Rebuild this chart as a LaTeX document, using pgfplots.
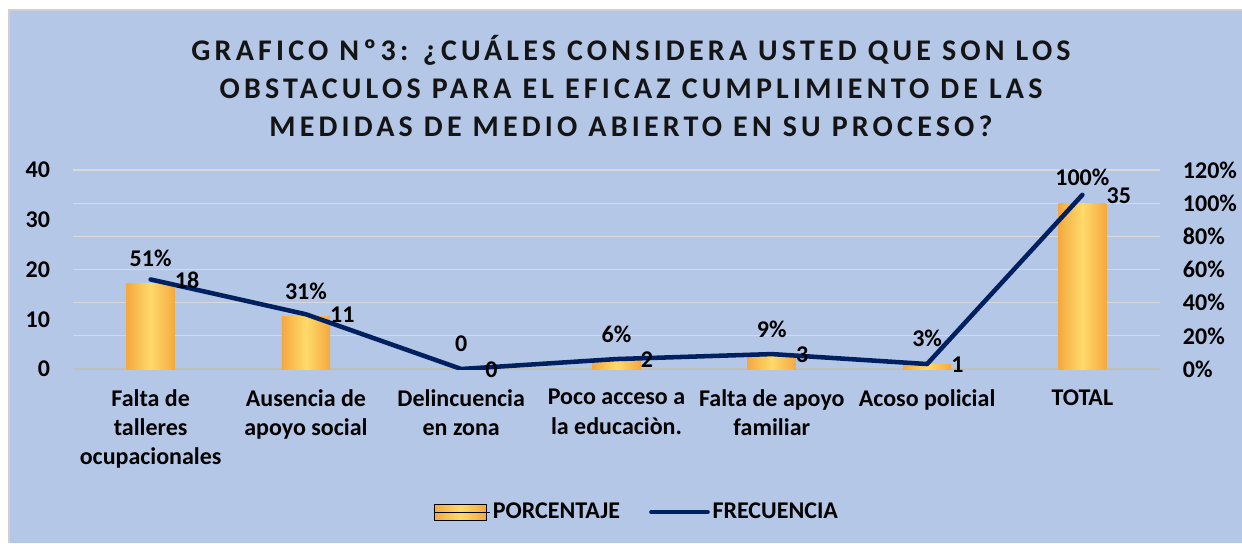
\documentclass[border=0pt]{standalone}
\usepackage{fontspec}
\setmainfont{Carlito}
\newfontfamily\titlefam{Carlito}[LetterSpace=14]
\usepackage{pgfplots}
\pgfplotsset{compat=1.18}
\definecolor{bg}{HTML}{B4C7E7}
\definecolor{navy}{HTML}{002060}
\definecolor{barEdge}{HTML}{F4A940}
\definecolor{barMid}{HTML}{FFDA6A}
\definecolor{gridc}{HTML}{D9D9D9}
\definecolor{basec}{HTML}{BFBFBF}
\definecolor{framec}{HTML}{D0D0D0}
\pgfdeclarehorizontalshading{barshade}{100bp}{color(0bp)=(barEdge); color(25bp)=(barEdge); color(50bp)=(barMid); color(75bp)=(barEdge); color(100bp)=(barEdge)}
\newcommand\lbl{\bfseries\fontsize{18}{22}\selectfont}
\pgfplotsset{mybar/.style={ybar, bar width=0.31, draw=none, shade, shading=barshade,
  nodes near coords, point meta=explicit symbolic,
  every node near coord/.append style={anchor=base, yshift=13pt, font=\lbl, text=black, inner sep=0pt}}}
\begin{document}
\begin{tikzpicture}
\path[use as bounding box] (0pt,0pt) rectangle (931.5pt,-407.25pt);
\fill[white] (0pt,0pt) rectangle (931.5pt,-407.25pt);
\fill[bg] (6.75pt,-7.5pt) rectangle (931.5pt,-407.25pt);
\draw[framec, line width=0.8pt] (6.75pt,-407.25pt) -- (6.75pt,-7.5pt) -- (931.5pt,-7.5pt);
\node[align=center, font=\titlefam\bfseries\fontsize{22.5}{28.5}\selectfont, text=black!92] at (473.25pt,-64.5pt)
 {GRAFICO Nº3: ¿CUÁLES CONSIDERA USTED QUE SON LOS\\OBSTACULOS PARA EL EFICAZ CUMPLIMIENTO DE LAS\\MEDIDAS DE MEDIO ABIERTO EN SU PROCESO?};
\begin{axis}[
  at={(54.75pt,-276.75pt)}, anchor=south west,
  width=815.25pt, height=149.25pt, scale only axis,
  xmin=-0.5, xmax=6.5, ymin=0, ymax=120,
  axis x line*=bottom, axis y line*=right,
  x axis line style={draw=basec, line width=1.5pt, -},
  y axis line style={draw=none},
  ymajorgrids, major grid style={gridc, line width=0.9pt},
  major tick length=0pt,
  ytick={0,20,...,120},
  yticklabel={\pgfmathprintnumber{\tick}\%},
  /pgf/number format/assume math mode=true,
  y tick label style={font=\lbl, anchor=west, inner sep=0pt, xshift=17pt},
  xtick={0,...,6},
  xticklabels={{Falta de\\talleres\\ocupacionales},{Ausencia de\\apoyo social},{Delincuencia\\en zona},{Poco acceso a\\la educaciòn.},{Falta de apoyo\\familiar},{Acoso policial},{TOTAL}},
  x tick label style={font=\lbl, align=center, anchor=north, inner sep=0pt, yshift=-15pt},
]
\addplot[mybar] coordinates {(0,51.43)[51\%]};
\addplot[mybar] coordinates {(1,31.43)[31\%]};
\addplot[mybar] coordinates {(2,0)[0]};
\addplot[mybar] coordinates {(3,5.71)[6\%]};
\addplot[mybar] coordinates {(4,8.57)[9\%]};
\addplot[mybar] coordinates {(5,2.86)[3\%]};
\addplot[mybar] coordinates {(6,100)[100\%]};
\end{axis}
\begin{axis}[
  at={(54.75pt,-276.75pt)}, anchor=south west,
  width=815.25pt, height=149.25pt, scale only axis,
  xmin=-0.5, xmax=6.5, ymin=0, ymax=40,
  hide x axis, axis y line*=left,
  y axis line style={draw=none},
  major tick length=0pt,
  ytick={0,10,...,40},
  /pgf/number format/assume math mode=true,
  y tick label style={font=\lbl, anchor=east, inner sep=0pt, xshift=-17pt},
  legend style={at={(0.519,-0.719)}, anchor=center, draw=none, fill=none, font=\lbl,
    legend columns=2, /tikz/every even column/.append style={column sep=20pt}},
]
\addlegendimage{legend image code/.code={\shade[shading=barshade] (0pt,-6pt) rectangle (39pt,6pt); \path (0pt,0pt) -- (42pt,0pt);}}
\addlegendentry{PORCENTAJE}
\addplot[navy, line width=3.4pt, line join=round, line cap=round,
  legend image code/.code={\draw[navy, line width=3.4pt, line cap=round] (0pt,0pt) -- (39pt,0pt); \path (0pt,0pt) -- (42pt,0pt);},
  nodes near coords, point meta=explicit symbolic,
  every node near coord/.append style={anchor=base west, xshift=16.5pt, yshift=-6.5pt, font=\lbl, text=black, inner sep=0pt}]
  coordinates {(0,18)[18] (1,11)[11] (2,0)[0] (3,2)[2] (4,3)[3] (5,1)[1] (6,35)[35]};
\addlegendentry{FRECUENCIA}
\end{axis}
\end{tikzpicture}
\end{document}
